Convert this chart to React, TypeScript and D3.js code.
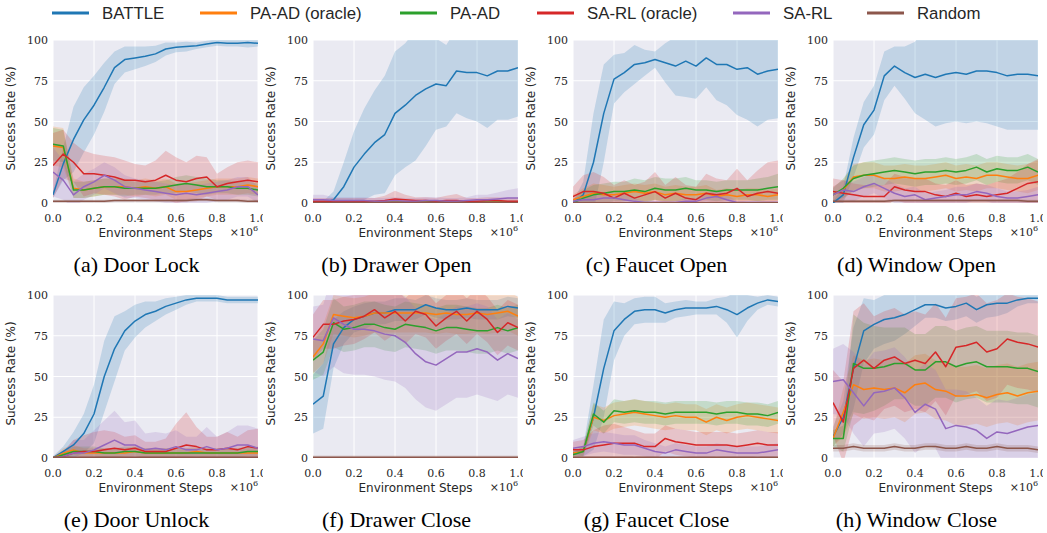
import React from "react";
import * as d3 from "d3";

// x positions of the logged points (in units of 1e6 environment steps)
const STEPS = [0, 0.05, 0.1, 0.15, 0.2, 0.25, 0.3, 0.35, 0.4, 0.45, 0.5, 0.55, 0.6, 0.65, 0.7, 0.75, 0.8, 0.85, 0.9, 0.95, 1.0];
const METHODS = ["BATTLE", "PA-AD (oracle)", "PA-AD", "SA-RL (oracle)", "SA-RL", "Random"];
const COLORS = ["#1f77b4", "#ff7f0e", "#2ca02c", "#d62728", "#9467bd", "#8c564b"];
const TASKS = ["(a) Door Lock", "(b) Drawer Open", "(c) Faucet Open", "(d) Window Open", "(e) Door Unlock", "(f) Drawer Close", "(g) Faucet Close", "(h) Window Close"];
const Y_TICKS = [0, 25, 50, 75, 100];
const X_TICKS = [0, 0.2, 0.4, 0.6, 0.8, 1.0];

// rows follow METHODS order: mean success rate and half-width of the shaded band
const doorLockMean = [
  [5, 24, 39, 51, 60, 71, 83, 88, 89, 90, 91.5, 94.5, 95.5, 96, 96.5, 97.5, 98.4, 98, 98, 98.4, 98],
  [35, 34, 9, 8, 9, 10, 10, 10, 9, 10, 9, 10, 7, 7, 8, 9, 10, 10, 10, 11, 10],
  [36, 35, 8, 8, 9, 10, 10, 9, 9, 9, 9, 10, 11, 12, 11, 10, 10, 10, 9, 9, 8],
  [23, 30, 25, 18, 18, 17, 16, 14, 14, 13, 14, 17, 14, 13, 15, 16, 10, 12, 13, 14, 13],
  [19, 14, 5, 10, 13, 17, 14, 10, 9, 8, 7, 6, 5, 6, 5, 6, 7, 8, 10, 10, 5],
  [1, 1, 1, 1, 1, 1, 1.5, 1.5, 1.5, 1.5, 1.5, 1.5, 1.5, 1.5, 2, 2, 1.5, 1.5, 1.5, 1, 1],
];
const doorLockSpread = [
  [2, 10, 20, 20, 18, 15, 10, 8, 7, 6, 5, 4, 3, 3, 2, 2, 2, 2, 2, 3, 2],
  [12, 12, 6, 5, 5, 5, 5, 5, 5, 5, 5, 5, 5, 5, 5, 5, 5, 5, 5, 5, 5],
  [10, 10, 5, 5, 5, 5, 5, 5, 4, 4, 4, 4, 5, 5, 5, 5, 4, 4, 4, 4, 4],
  [20, 15, 12, 14, 12, 12, 12, 12, 10, 10, 12, 15, 14, 12, 14, 12, 8, 10, 12, 12, 12],
  [15, 12, 8, 8, 8, 8, 8, 7, 6, 6, 6, 6, 6, 6, 6, 6, 6, 6, 6, 6, 5],
  [1, 1, 1, 1, 1, 1, 1, 1, 1, 1, 1, 1, 1, 1, 1, 1, 1, 1, 1, 1, 1],
];

const drawerOpenMean = [
  [0, 0, 2, 10, 22, 30, 37, 42, 55, 60, 66, 70, 73, 72, 81, 80, 80, 78, 81, 81, 83],
  [0.5, 0.5, 0.5, 0.5, 0.5, 0.5, 0.5, 0.5, 1, 0.5, 0.5, 0.5, 0.5, 0.5, 0.5, 0.5, 0.5, 0.5, 0.5, 0.5, 0.5],
  [0.5, 0.5, 0.5, 0.5, 0.5, 0.5, 0.5, 0.5, 0.5, 0.5, 0.5, 0.5, 1, 0.5, 0.5, 0.5, 0.5, 0.5, 0.5, 0.5, 0.5],
  [1, 1, 1, 1, 1, 1, 1, 1.5, 2.5, 2, 1.5, 1.5, 1, 1.5, 1.5, 1, 1, 1.5, 1.5, 1, 1],
  [2, 2, 1.5, 1.5, 1.5, 1.5, 1, 1, 1.5, 1, 1, 1.5, 1.5, 1, 1, 1.5, 2, 2, 2.5, 3, 3],
  [0.3, 0.3, 0.3, 0.3, 0.3, 0.3, 0.3, 0.3, 0.3, 0.3, 0.3, 0.3, 0.3, 0.3, 0.3, 0.3, 0.3, 0.3, 0.3, 0.3, 0.3],
];
const drawerOpenSpread = [
  [0, 1, 5, 15, 22, 28, 32, 36, 38, 38, 40, 35, 28, 25, 26, 28, 30, 32, 30, 30, 30],
  [1, 1, 1, 1, 1, 1, 1, 1, 1, 1, 1, 1, 1, 1, 1, 1, 1, 1, 1, 1, 1],
  [1, 1, 1, 1, 1, 1, 1, 1, 1, 1, 1, 1, 1, 1, 1, 1, 1, 1, 1, 1, 1],
  [2, 2, 2, 2, 2, 2, 2, 3, 5, 3, 2, 2, 2, 3, 4, 2, 2, 2, 2, 2, 2],
  [3, 3, 2, 2, 2, 2, 2, 2, 2, 2, 2, 2, 2, 2, 2, 2, 3, 3, 4, 5, 6],
  [0.5, 0.5, 0.5, 0.5, 0.5, 0.5, 0.5, 0.5, 0.5, 0.5, 0.5, 0.5, 0.5, 0.5, 0.5, 0.5, 0.5, 0.5, 0.5, 0.5, 0.5],
];

const faucetOpenMean = [
  [0, 5, 25, 55, 76, 80, 85, 86, 88, 86, 84, 87, 84, 89, 85, 85, 82, 83, 79, 81, 82],
  [2, 4, 6, 5, 5, 6, 7, 6, 7, 5, 6, 5, 5, 6, 4, 5, 4, 5, 5, 4, 5],
  [0, 3, 5, 6, 7, 7, 8, 7, 9, 8, 8, 9, 8, 8, 7, 8, 8, 8, 8, 9, 10],
  [4, 7, 7, 6, 3, 6, 3, 5, 7, 3, 6, 3, 2, 6, 5, 6, 9, 4, 6, 7, 6],
  [1, 2, 2, 3, 3, 2, 1, 0.3, 0.3, 0.3, 0.3, 1, 1, 3, 4, 2, 0.3, 0.3, 0.3, 0.3, 0.3],
  [0.2, 0.2, 0.2, 0.2, 0.2, 0.2, 0.2, 0.2, 0.2, 0.2, 0.2, 0.2, 0.2, 0.2, 0.2, 0.2, 0.2, 0.2, 0.2, 0.2, 0.2],
];
const faucetOpenSpread = [
  [1, 8, 30, 30, 15, 12, 12, 8, 5, 12, 18, 22, 20, 18, 22, 25, 28, 32, 32, 30, 30],
  [3, 5, 6, 6, 5, 5, 5, 5, 5, 5, 5, 5, 5, 5, 4, 4, 4, 4, 4, 4, 4],
  [2, 5, 6, 6, 6, 6, 7, 7, 7, 7, 7, 7, 6, 6, 6, 6, 6, 6, 7, 7, 8],
  [6, 10, 12, 10, 8, 8, 8, 8, 12, 8, 10, 8, 8, 12, 10, 8, 12, 10, 14, 18, 20],
  [2, 2, 3, 3, 3, 3, 2, 1, 1, 1, 1, 2, 2, 3, 4, 3, 1, 1, 1, 1, 1],
  [0.3, 0.3, 0.3, 0.3, 0.3, 0.3, 0.3, 0.3, 0.3, 0.3, 0.3, 0.3, 0.3, 0.3, 0.3, 0.3, 0.3, 0.3, 0.3, 0.3, 0.3],
];

const windowOpenMean = [
  [0, 5, 28, 48, 57, 78, 84, 80, 77, 79, 77, 79, 80, 79, 81, 81, 80, 78, 79, 79, 78],
  [5, 8, 16, 17, 17, 15, 15, 16, 15, 15, 16, 17, 15, 16, 15, 17, 17, 16, 15, 15, 17],
  [5, 9, 15, 17, 18, 19, 20, 19, 18, 19, 19, 20, 19, 20, 22, 19, 21, 20, 20, 22, 19],
  [7, 6, 5, 4, 4, 4, 10, 8, 7, 7, 5, 4, 6, 4, 5, 4, 5, 6, 9, 12, 13],
  [5, 8, 7, 10, 12, 9, 6, 4, 5, 2, 3, 4, 5, 5, 7, 6, 4, 3, 3, 4, 5],
  [1, 1, 1, 1, 1, 1, 1.5, 1.5, 1.5, 1.5, 1.5, 1.5, 1.5, 1.5, 1.5, 1.5, 1.5, 1.5, 1.5, 1, 1],
];
const windowOpenSpread = [
  [1, 5, 12, 14, 15, 15, 12, 16, 22, 28, 30, 30, 30, 30, 31, 32, 33, 33, 34, 34, 33],
  [5, 6, 8, 8, 8, 8, 8, 8, 8, 8, 8, 8, 8, 8, 8, 8, 8, 8, 8, 9, 9],
  [4, 6, 8, 8, 8, 8, 8, 8, 8, 8, 8, 8, 8, 8, 8, 8, 8, 8, 8, 8, 8],
  [8, 8, 7, 7, 7, 7, 8, 8, 8, 8, 7, 7, 8, 7, 7, 7, 8, 9, 10, 12, 14],
  [5, 6, 6, 6, 6, 6, 6, 5, 5, 4, 4, 4, 5, 5, 5, 5, 5, 4, 4, 4, 5],
  [1, 1, 1, 1, 1, 1, 1, 1, 1, 1, 1, 1, 1, 1, 1, 1, 1, 1, 1, 1, 1],
];

const doorUnlockMean = [
  [0, 4, 8, 15, 27, 50, 67, 78, 84, 88, 90, 93, 95, 97, 98, 98, 98, 97, 97, 97, 97],
  [0, 3, 5, 3, 3, 3, 3, 3, 4, 3, 3, 3, 3, 3, 4, 3, 3, 3, 3, 3, 3],
  [0, 2, 4, 4, 4, 3, 3, 4, 4, 3, 3, 3, 3, 3, 3, 3, 3, 3, 3, 4, 4],
  [0, 1, 3, 4, 4, 5, 6, 5, 6, 4, 4, 4, 6, 8, 7, 5, 5, 6, 5, 7, 6],
  [0, 1, 3, 3, 5, 8, 11, 8, 8, 5, 6, 5, 7, 5, 5, 7, 5, 6, 8, 8, 6],
  [0.5, 0.5, 0.5, 0.5, 0.5, 0.5, 0.5, 0.5, 0.5, 0.5, 0.5, 0.5, 0.5, 0.5, 0.5, 0.5, 0.5, 0.5, 0.5, 0.5, 0.5],
];
const doorUnlockSpread = [
  [1, 3, 8, 12, 18, 22, 20, 12, 10, 8, 6, 5, 4, 3, 2, 2, 2, 2, 2, 2, 2],
  [0.5, 3, 3, 3, 3, 3, 3, 3, 3, 3, 3, 3, 3, 3, 3, 3, 3, 3, 3, 3, 3],
  [0.5, 2, 3, 3, 3, 3, 3, 3, 3, 3, 3, 3, 3, 3, 3, 3, 3, 3, 3, 3, 3],
  [0.5, 3, 8, 10, 12, 12, 10, 8, 8, 6, 6, 8, 15, 20, 12, 8, 8, 10, 8, 10, 12],
  [1, 3, 8, 8, 12, 15, 18, 14, 15, 10, 10, 10, 10, 8, 8, 12, 8, 10, 12, 12, 12],
  [0.5, 0.5, 0.5, 0.5, 0.5, 0.5, 0.5, 0.5, 0.5, 0.5, 0.5, 0.5, 0.5, 0.5, 0.5, 0.5, 0.5, 0.5, 0.5, 0.5, 0.5],
];

const drawerCloseMean = [
  [33, 38, 70, 80, 85, 87, 89, 89, 91, 91, 91, 94, 92, 91, 91, 92, 91, 91, 91, 93, 92],
  [62, 70, 88, 87, 86, 87, 89, 89, 89, 89, 89, 89, 88, 89, 88, 88, 89, 88, 89, 90, 87],
  [60, 65, 83, 79, 80, 82, 82, 80, 79, 82, 81, 80, 78, 80, 80, 79, 78, 78, 80, 78, 80],
  [74, 82, 82, 84, 85, 87, 91, 86, 90, 84, 90, 88, 81, 86, 90, 84, 90, 85, 77, 83, 80],
  [73, 72, 86, 82, 79, 79, 78, 76, 75, 71, 64, 59, 57, 61, 65, 65, 67, 65, 60, 64, 61],
  [0.5, 0.5, 0.5, 0.5, 0.5, 0.5, 0.5, 0.5, 0.5, 0.5, 0.5, 0.5, 0.5, 0.5, 0.5, 0.5, 0.5, 0.5, 0.5, 0.5, 0.5],
];
const drawerCloseSpread = [
  [18, 20, 15, 10, 8, 8, 7, 7, 7, 7, 6, 6, 6, 6, 6, 6, 6, 6, 6, 6, 6],
  [10, 12, 12, 12, 12, 12, 12, 12, 12, 12, 12, 12, 12, 12, 12, 12, 12, 12, 12, 12, 12],
  [12, 14, 15, 14, 14, 14, 14, 14, 14, 14, 14, 14, 14, 14, 14, 14, 14, 14, 14, 14, 14],
  [14, 15, 15, 15, 15, 14, 14, 14, 14, 14, 14, 14, 14, 14, 14, 14, 14, 14, 14, 14, 14],
  [20, 22, 30, 30, 28, 28, 28, 28, 28, 28, 28, 28, 28, 28, 28, 28, 28, 28, 25, 25, 24],
  [1, 1, 1, 1, 1, 1, 1, 1, 1, 1, 1, 1, 1, 1, 1, 1, 1, 1, 1, 1, 1],
];

const faucetCloseMean = [
  [3, 4, 25, 55, 78, 85, 90, 91, 91, 89, 91, 92, 92, 92, 93, 91, 88, 92, 95, 97, 96],
  [3, 4, 25, 23, 26, 27, 28, 27, 26, 25, 26, 25, 25, 22, 25, 23, 25, 26, 25, 24, 23],
  [2, 4, 27, 22, 29, 28, 29, 28, 28, 27, 28, 28, 28, 28, 27, 28, 28, 27, 27, 26, 28],
  [5, 5, 7, 8, 9, 9, 9, 7, 7, 12, 10, 9, 8, 8, 8, 8, 7, 8, 9, 8, 8],
  [6, 7, 9, 10, 9, 8, 8, 6, 4, 3, 5, 4, 3, 3, 5, 4, 3, 3, 3, 4, 5],
  [0.5, 0.5, 0.5, 0.5, 0.5, 0.5, 0.5, 0.5, 0.5, 0.5, 0.5, 0.5, 0.5, 0.5, 0.5, 0.5, 0.5, 0.5, 0.5, 0.5, 0.5],
];
const faucetCloseSpread = [
  [1, 3, 20, 30, 18, 10, 8, 8, 8, 6, 5, 5, 4, 4, 5, 8, 14, 8, 4, 3, 3],
  [2, 3, 8, 8, 8, 8, 8, 8, 8, 8, 8, 8, 8, 8, 8, 8, 8, 8, 8, 8, 8],
  [2, 3, 7, 7, 7, 7, 7, 7, 7, 7, 7, 7, 7, 7, 7, 7, 7, 7, 7, 7, 7],
  [5, 6, 10, 12, 12, 10, 8, 8, 8, 8, 8, 8, 8, 8, 8, 8, 8, 8, 8, 8, 8],
  [5, 6, 6, 6, 6, 6, 6, 5, 5, 4, 4, 4, 4, 4, 4, 4, 4, 4, 4, 4, 4],
  [0.5, 0.5, 0.5, 0.5, 0.5, 0.5, 0.5, 0.5, 0.5, 0.5, 0.5, 0.5, 0.5, 0.5, 0.5, 0.5, 0.5, 0.5, 0.5, 0.5, 0.5],
];

const windowCloseMean = [
  [13, 25, 55, 78, 82, 85, 86, 88, 91, 94, 94, 92, 93, 95, 91, 94, 95, 95, 97, 98, 98],
  [12, 28, 45, 42, 43, 42, 43, 40, 45, 46, 42, 41, 38, 38, 39, 37, 39, 40, 38, 40, 41],
  [12, 12, 58, 55, 55, 56, 58, 58, 54, 54, 59, 59, 56, 58, 59, 56, 56, 56, 55, 55, 53],
  [34, 22, 55, 60, 55, 60, 62, 58, 60, 58, 65, 56, 68, 69, 71, 65, 67, 73, 71, 70, 68],
  [47, 48, 40, 32, 40, 41, 43, 37, 28, 33, 30, 18, 20, 19, 17, 12, 16, 15, 17, 19, 20],
  [6, 6, 7, 6, 6, 6, 7, 6, 6, 7, 7, 6, 6, 7, 6, 6, 7, 6, 6, 6, 5],
];
const windowCloseSpread = [
  [6, 10, 25, 20, 15, 15, 14, 12, 10, 8, 8, 8, 8, 8, 8, 8, 8, 6, 4, 3, 3],
  [5, 15, 18, 18, 18, 18, 18, 18, 18, 18, 18, 18, 18, 18, 18, 18, 18, 18, 18, 18, 18],
  [5, 8, 30, 28, 26, 24, 22, 22, 22, 22, 22, 22, 22, 22, 22, 22, 22, 22, 22, 22, 22],
  [20, 25, 35, 35, 32, 30, 30, 30, 30, 30, 30, 30, 30, 30, 30, 30, 30, 28, 28, 28, 28],
  [20, 22, 25, 25, 25, 25, 25, 25, 25, 25, 24, 24, 22, 22, 20, 20, 20, 20, 20, 20, 20],
  [2, 2, 2, 2, 2, 2, 2, 2, 2, 2, 2, 2, 2, 2, 2, 2, 2, 2, 2, 2, 2],
];

const PANEL_MEANS = [doorLockMean, drawerOpenMean, faucetOpenMean, windowOpenMean, doorUnlockMean, drawerCloseMean, faucetCloseMean, windowCloseMean];
const PANEL_SPREADS = [doorLockSpread, drawerOpenSpread, faucetOpenSpread, windowOpenSpread, doorUnlockSpread, drawerCloseSpread, faucetCloseSpread, windowCloseSpread];

const W = 1047;
const H = 533;
const PLOT_W = 205;
const PLOT_H = 163;
const COL_STEP = 260;
const ROW_STEP = 255;
const TEXT = "#262626";

// legend layout: left end of each swatch
const LEGEND_X = [52, 200, 400, 537, 733, 867];

function Panel({ idx }: { idx: number }) {
  const col = idx % 4;
  const row = Math.floor(idx / 4);
  const left = 53 + col * COL_STEP;
  const top = 40 + row * ROW_STEP;
  const x = d3.scaleLinear().domain([0, 1]).range([left, left + PLOT_W]);
  const y = d3.scaleLinear().domain([0, 100]).range([top + PLOT_H, top]);
  const means = PANEL_MEANS[idx];
  const spreads = PANEL_SPREADS[idx];

  const line = d3
    .line<number>()
    .x((_, i) => x(STEPS[i]))
    .y((d) => y(d));

  const clipId = `plot-clip-${idx}`;
  const figClip = `fig-clip-${idx}`;

  return (
    <g>
      <defs>
        <clipPath id={clipId}>
          <rect x={left} y={top} width={PLOT_W} height={PLOT_H} />
        </clipPath>
        <clipPath id={figClip}>
          <rect x={col * COL_STEP} y={top - 40} width={263} height={ROW_STEP} />
        </clipPath>
      </defs>
      <g clipPath={`url(#${figClip})`}>
        <rect x={left} y={top} width={PLOT_W} height={PLOT_H} fill="#EAEAF2" />
        {X_TICKS.map((t) => (
          <line key={`gx${t}`} x1={x(t)} x2={x(t)} y1={top} y2={top + PLOT_H} stroke="#fff" strokeWidth={1} />
        ))}
        {Y_TICKS.map((t) => (
          <line key={`gy${t}`} x1={left} x2={left + PLOT_W} y1={y(t)} y2={y(t)} stroke="#fff" strokeWidth={1} />
        ))}
        <g clipPath={`url(#${clipId})`}>
          {means.map((m, s) => {
            const area = d3
              .area<number>()
              .x((_, i) => x(STEPS[i]))
              .y0((d, i) => y(d - spreads[s][i]))
              .y1((d, i) => y(d + spreads[s][i]));
            return <path key={`b${s}`} d={area(m) || ""} fill={COLORS[s]} fillOpacity={0.2} stroke="none" />;
          })}
          {means.map((m, s) => (
            <path key={`l${s}`} d={line(m) || ""} fill="none" stroke={COLORS[s]} strokeWidth={1.5} strokeLinejoin="round" />
          ))}
        </g>
        {Y_TICKS.map((t) => (
          <text key={`ty${t}`} x={left - 5} y={y(t) + 4} textAnchor="end" fontFamily="DejaVu Serif" fontSize={11} fill={TEXT}>
            {t}
          </text>
        ))}
        {X_TICKS.map((t) => (
          <text key={`tx${t}`} x={x(t)} y={top + PLOT_H + 19} textAnchor="middle" fontFamily="DejaVu Serif" fontSize={11} fill={TEXT}>
            {t.toFixed(1)}
          </text>
        ))}
        <text x={left + PLOT_W} y={top + PLOT_H + 33} textAnchor="end" fontFamily="DejaVu Serif" fontSize={11} fill={TEXT}>
          ×10<tspan fontSize={8} dy={-5}>6</tspan>
        </text>
        <text x={left + PLOT_W / 2} y={top + PLOT_H + 34} textAnchor="middle" fontFamily="DejaVu Sans" fontSize={12} fill={TEXT}>
          Environment Steps
        </text>
        <text
          transform={`translate(${left - 38},${top + PLOT_H / 2 - 3}) rotate(-90)`}
          textAnchor="middle"
          fontFamily="DejaVu Sans"
          fontSize={12}
          fill={TEXT}
        >
          Success Rate (%)
        </text>
      </g>
      <text x={left + PLOT_W / 2 - 19} y={top + 232} textAnchor="middle" fontFamily="Liberation Serif" fontSize={22} fill="#000">
        {TASKS[idx]}
      </text>
    </g>
  );
}

export default function App() {
  return (
    <svg width={W} height={H} style={{ position: "absolute", left: 0, top: 0, background: "#fff" }}>
      {METHODS.map((name, i) => (
        <g key={name}>
          <line x1={LEGEND_X[i]} x2={LEGEND_X[i] + 37} y1={13} y2={13} stroke={COLORS[i]} strokeWidth={3} />
          <text x={LEGEND_X[i] + 50} y={19} fontFamily="Liberation Sans" fontSize={16.8} fill={TEXT}>
            {name}
          </text>
        </g>
      ))}
      {TASKS.map((_, i) => (
        <Panel key={i} idx={i} />
      ))}
    </svg>
  );
}
